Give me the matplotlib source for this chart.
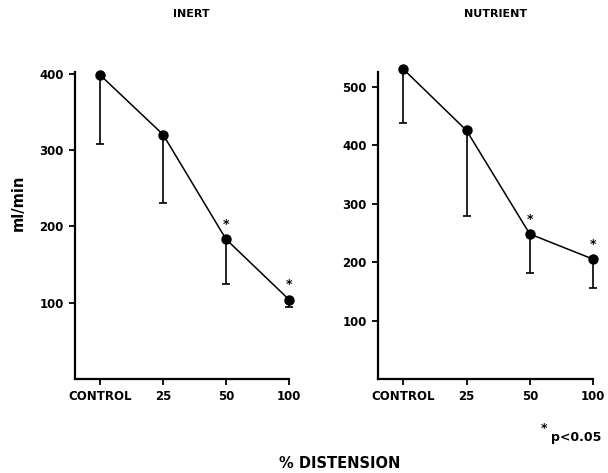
"""
Flow vs % distension, inert and nutrient panels
"""
import matplotlib
matplotlib.use("Agg")
import matplotlib.pyplot as plt
import numpy as np

plt.rcParams['font.family'] = ['DejaVu Sans']
plt.rcParams['font.weight'] = 'bold'

categories = ['CONTROL', '25', '50', '100']
significant = [False, False, True, True]

inert_mean = [398, 320, 183, 104]
inert_low = [308, 230, 124, 94]      # lower end of the error bar
nutrient_mean = [530, 425, 248, 205]
nutrient_low = [438, 279, 182, 156]

W, H = 608, 473
fig = plt.figure(figsize=(W / 100, H / 100), dpi=100)

ax1 = fig.add_axes([75 / W, 94 / H, 214 / W, 307 / H])
ax2 = fig.add_axes([378 / W, 94 / H, 215 / W, 307 / H])


def panel(ax, mean, low, ymax, yticks):
    x = np.arange(len(categories))
    mean = np.array(mean)
    err = mean - np.array(low)
    ax.errorbar(x, mean, yerr=[err, np.zeros_like(err)], fmt='none',
                ecolor='black', elinewidth=1.2, capsize=3, capthick=1.2,
                clip_on=False)
    ax.plot(x, mean, color='black', lw=1.1, marker='o', ms=6.5,
            clip_on=False, zorder=3)
    for xi, yi, s in zip(x, mean, significant):
        if s:
            ax.annotate('*', (xi, yi), xytext=(0, 6), textcoords='offset points',
                        ha='center', va='bottom', fontsize=9, fontweight='bold')
    ax.set_xlim(-0.4, 3)
    ax.set_ylim(0, ymax)
    ax.set_xticks(x)
    ax.set_xticklabels(categories)
    ax.set_yticks(yticks)
    for sp in ['top', 'right']:
        ax.spines[sp].set_visible(False)
    for sp in ['left', 'bottom']:
        ax.spines[sp].set_linewidth(1.6)
    ax.tick_params(direction='out', length=4, width=1.3, labelsize=8.5, pad=4)


panel(ax1, inert_mean, inert_low, 402, [100, 200, 300, 400])
panel(ax2, nutrient_mean, nutrient_low, 525, [100, 200, 300, 400, 500])

fig.text(191 / W, 1 - 14 / H, 'INERT', ha='center', va='center', fontsize=8, fontweight='bold')
fig.text(496 / W, 1 - 14 / H, 'NUTRIENT', ha='center', va='center', fontsize=8, fontweight='bold')
fig.text(18 / W, 1 - 203 / H, 'ml/min', ha='center', va='center', rotation=90,
         fontsize=10.5, fontweight='bold')
fig.text(340 / W, 1 - 463 / H, '% DISTENSION', ha='center', va='center',
         fontsize=10.5, fontweight='bold')
fig.text(544 / W, 1 - 428 / H, '*', ha='center', va='center', fontsize=9, fontweight='bold')
fig.text(551 / W, 1 - 437 / H, 'p<0.05', ha='left', va='center', fontsize=9, fontweight='bold')

fig.savefig('out.png', dpi=100)
